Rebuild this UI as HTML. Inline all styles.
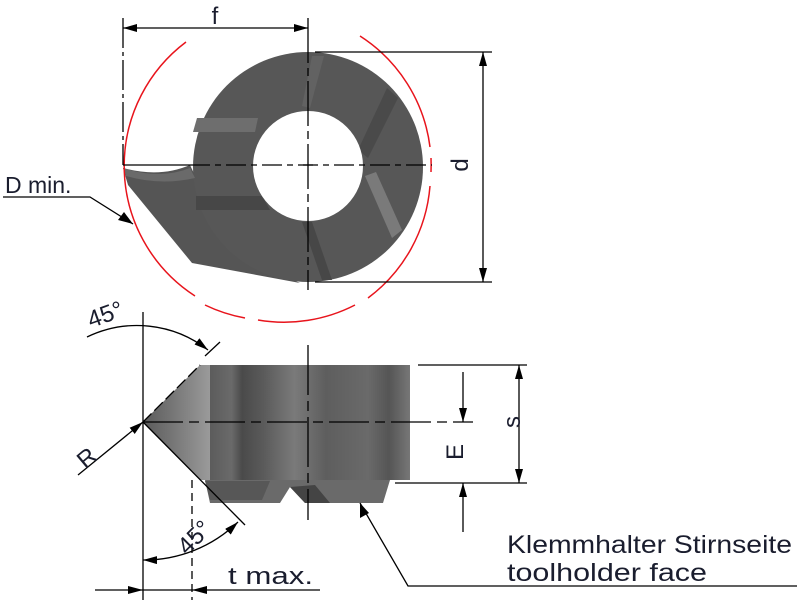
<!DOCTYPE html>
<html><head><meta charset="utf-8"><style>
html,body{margin:0;padding:0;background:#fff;}
svg{display:block;}
text{font-family:"Liberation Sans",sans-serif;fill:#1a1d2e;}
</style></head><body>
<svg width="800" height="601" viewBox="0 0 800 601" xmlns="http://www.w3.org/2000/svg">
<defs>
<marker id="a" viewBox="0 0 14 8" refX="14" refY="4" markerWidth="14" markerHeight="8" markerUnits="userSpaceOnUse" orient="auto-start-reverse"><path d="M0,0 L14,4 L0,8 z" fill="#000"/></marker>
<linearGradient id="g1" x1="0" x2="1" y1="0" y2="0">
<stop offset="0" stop-color="#555"/><stop offset="0.15" stop-color="#6a6a6a"/><stop offset="0.2" stop-color="#4a4a4a"/><stop offset="0.3" stop-color="#5a5a5a"/><stop offset="0.45" stop-color="#7a7a7a"/><stop offset="0.6" stop-color="#5e5e5e"/><stop offset="0.8" stop-color="#6a6a6a"/><stop offset="0.9" stop-color="#555"/><stop offset="1" stop-color="#777"/>
</linearGradient>
<linearGradient id="g2" x1="0" x2="1" y1="0" y2="0"><stop offset="0" stop-color="#5a5a5a"/><stop offset="1" stop-color="#9a9a9a"/></linearGradient>
</defs>

<!-- top view insert -->
<path d="M123,168 Q160,178 190,165 L230,250 L300,283 L192,263 L128,185 Z" fill="#555"/>
<circle cx="308" cy="167" r="115" fill="#575757"/>
<path d="M123,168 Q160,180 190,168 L195,178 Q160,186 126,176 Z" fill="#6a6a6a"/>
<path d="M197,118 L258,118 L255,132 L193,132 Z" fill="#6e6e6e"/>
<path d="M196,196 L262,196 L270,210 L196,210 Z" fill="#474747"/>
<path d="M387,88 L398,98 L368,158 L358,150 Z" fill="#4a4a4a"/>
<path d="M365,176 L376,172 L402,230 L392,238 Z" fill="#7a7a7a"/>
<path d="M312,56 L324,56 L310,108 L302,106 Z" fill="#626262"/>
<path d="M302,222 L312,222 L332,280 L322,280 Z" fill="#474747"/>
<circle cx="308" cy="166" r="55" fill="#fff"/>

<g fill="none" stroke="#e8141c" stroke-width="1.5">
<path d="M186,42 A155,155 0 0 0 195,296"/>
<path d="M360,36 A155,155 0 0 1 430,147"/>
<path d="M431,158 A155,155 0 0 1 431,172"/>
<path d="M430,186 A155,155 0 0 1 368,298"/>
<path d="M205,305 A155,155 0 0 0 245,318"/>
<path d="M258,320 A155,155 0 0 0 355,305"/>
</g>

<g stroke="#000" stroke-width="1.3" fill="none">
<line x1="123" y1="18" x2="123" y2="165" stroke-dasharray="30,4,4,4"/>
<line x1="308" y1="18" x2="308" y2="290" stroke-dasharray="45,5,8,5"/>
<line x1="123" y1="28" x2="308" y2="28" marker-start="url(#a)" marker-end="url(#a)"/>
<line x1="123" y1="165" x2="190" y2="165"/>
<line x1="190" y1="165" x2="432" y2="165" stroke-dasharray="20,5,6,5"/>
<line x1="303" y1="165" x2="313" y2="165"/>
<line x1="315" y1="52" x2="492" y2="52"/>
<line x1="315" y1="282" x2="492" y2="282"/>
<line x1="483" y1="52" x2="483" y2="282" marker-start="url(#a)" marker-end="url(#a)"/>
<polyline points="3,197 90,197 133,224" />
</g>
<path d="M133,224 L118,220 L124,212 Z" fill="#000"/>
<text x="5" y="193" font-size="23">D min.</text>
<text x="0" y="0" font-size="24" transform="translate(468,165) rotate(-90)" text-anchor="middle">d</text>
<text x="215" y="24" font-size="24" text-anchor="middle">f</text>

<rect x="200" y="365" width="210" height="115" fill="url(#g1)"/>
<path d="M143,422 L200,365 L210,365 L210,480 L200,480 Z" fill="url(#g2)"/>
<path d="M205,480 L390,480 L383,503 L305,503 L290,487 L280,503 L210,503 Z" fill="#6a6a6a"/>
<path d="M290,487 L305,503 L330,503 L315,485 Z" fill="#444"/>
<path d="M205,481 L270,481 L262,500 L210,500 Z" fill="#575757"/>

<g stroke="#000" stroke-width="1.3" fill="none">
<line x1="143" y1="312" x2="143" y2="600"/>
<line x1="143" y1="422" x2="200" y2="365" stroke-dasharray="12,4"/>
<line x1="143" y1="422" x2="245" y2="525"/>
<line x1="143" y1="422" x2="473" y2="422" stroke-dasharray="40,6,10,6"/>
<line x1="308" y1="345" x2="308" y2="520" stroke-dasharray="50,6,10,6"/>
<line x1="205" y1="356" x2="220" y2="342"/>
<path d="M87,337 A115,115 0 0 1 208,350" marker-end="url(#a)"/>
<path d="M143,560 A135,135 0 0 0 238,522" marker-start="url(#a)" marker-end="url(#a)"/>
<line x1="78" y1="475" x2="143" y2="422" marker-end="url(#a)"/>
<line x1="192" y1="480" x2="192" y2="600" stroke-dasharray="8,5"/>
<line x1="95" y1="590" x2="320" y2="590"/>
<line x1="418" y1="365" x2="527" y2="365"/>
<line x1="395" y1="483" x2="527" y2="483"/>
<line x1="519" y1="365" x2="519" y2="483" marker-start="url(#a)" marker-end="url(#a)"/>
<line x1="463" y1="372" x2="463" y2="422" marker-end="url(#a)"/>
<line x1="463" y1="532" x2="463" y2="483" marker-end="url(#a)"/>
<polyline points="360,503 408,586 797,586"/>
</g>
<path d="M143,590 L128,586 L128,594 Z" fill="#000"/>
<path d="M192,590 L207,586 L207,594 Z" fill="#000"/>
<path d="M360,503 L360,518 L369,513 Z" fill="#000"/>

<text font-size="24" transform="translate(108,322) rotate(-20)" text-anchor="middle">45°</text>
<text font-size="24" transform="translate(200,543) rotate(-45)" text-anchor="middle">45°</text>
<text font-size="24" transform="translate(92,464) rotate(-40)" text-anchor="middle">R</text>
<text font-size="24" transform="translate(520,422) rotate(-90)" text-anchor="middle">s</text>
<text font-size="24" transform="translate(463,452) rotate(-90)" text-anchor="middle">E</text>
<text x="228" y="584" font-size="24" textLength="85" lengthAdjust="spacingAndGlyphs">t max.</text>
<text x="507" y="553" font-size="25" textLength="285" lengthAdjust="spacingAndGlyphs">Klemmhalter Stirnseite</text>
<text x="507" y="581" font-size="25" textLength="200" lengthAdjust="spacingAndGlyphs">toolholder face</text>
</svg>
</body></html>
